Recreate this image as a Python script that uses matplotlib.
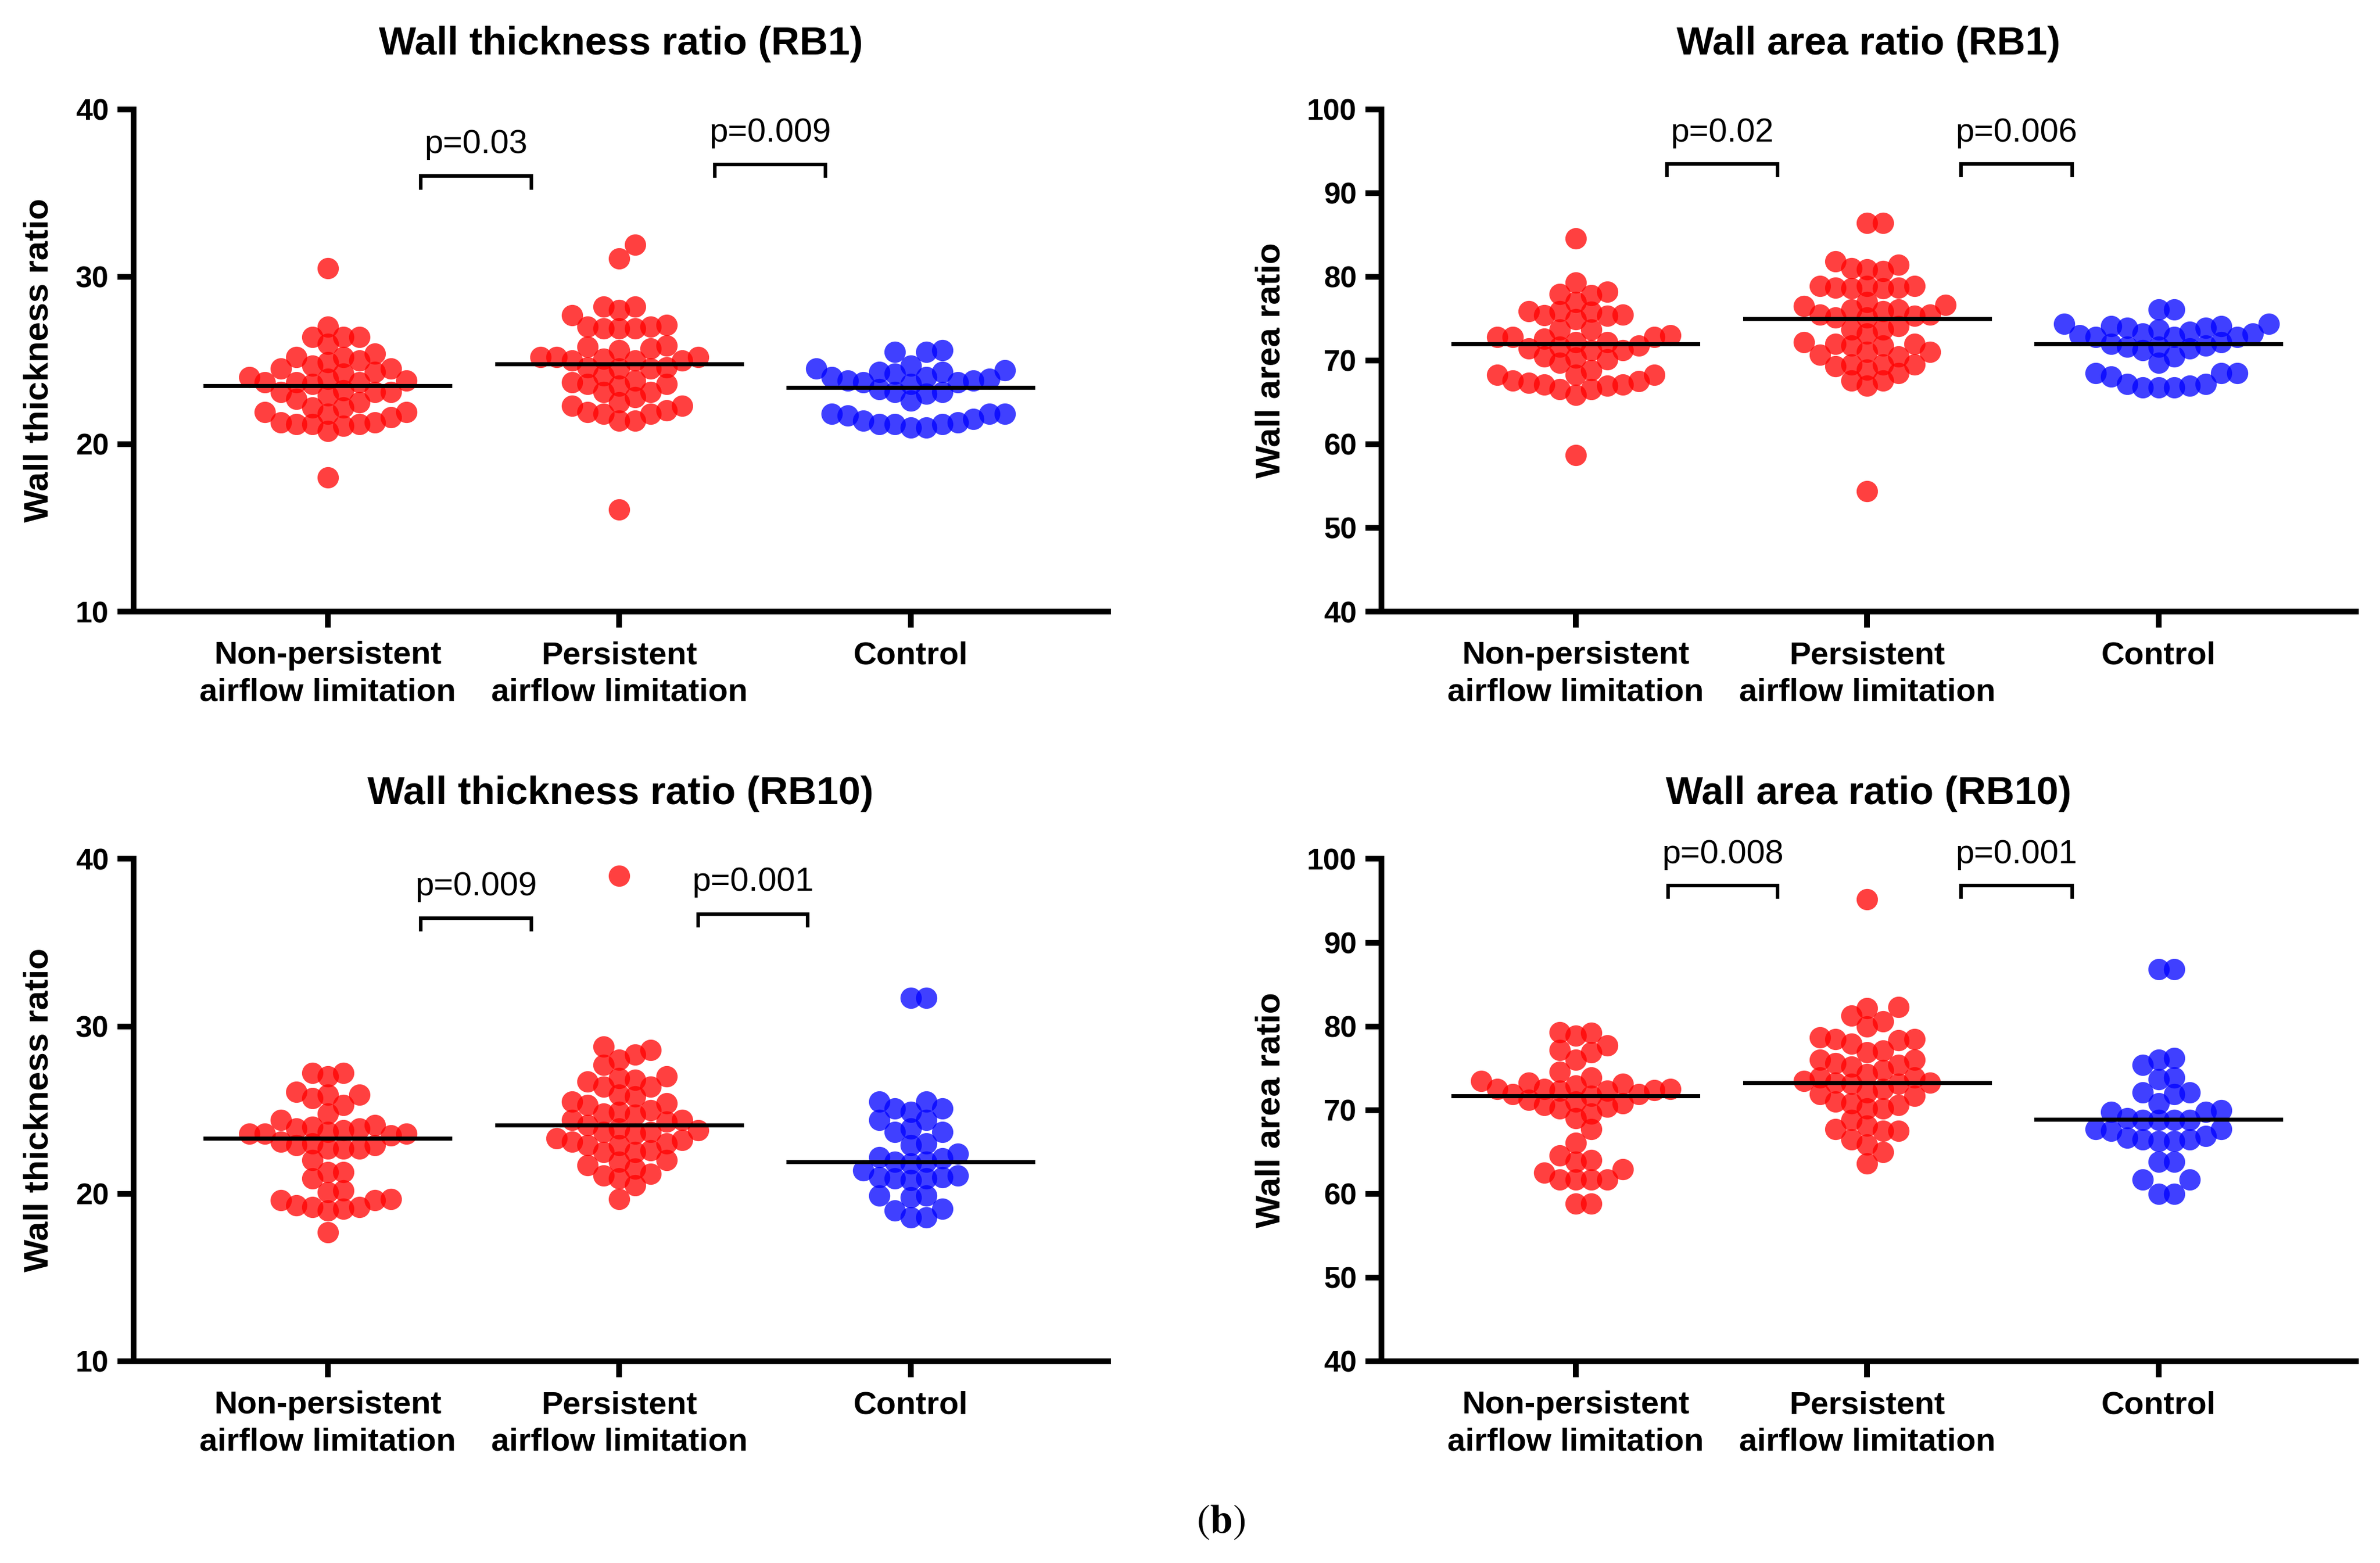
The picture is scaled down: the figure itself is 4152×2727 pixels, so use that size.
import numpy as np
import matplotlib
matplotlib.use('Agg')
import matplotlib.pyplot as plt

plt.rcParams['font.family'] = ['Liberation Sans', 'DejaVu Sans']
plt.rcParams['mathtext.fontset'] = 'stix'

# group names on the x axis
groups = ['Non-persistent\nairflow limitation', 'Persistent\nairflow limitation', 'Control']

# ---- wall thickness ratio, RB1 ----
nonpers_wtr_rb1 = [30.5, 27.0, 26.4, 26.4, 26.4, 26.0, 25.4, 25.2, 25.2, 25.0, 24.9, 24.7, 24.5, 24.5,
                   24.3, 24.2, 24.0, 23.9, 23.8, 23.7, 23.7, 23.7, 23.6, 23.2, 23.1, 23.1, 23.1, 22.9,
                   22.7, 22.5, 22.2, 22.2, 21.9, 21.9, 21.8, 21.6, 21.3, 21.3, 21.2, 21.2, 21.1, 21.2,
                   20.8, 18.0]
pers_wtr_rb1 = [31.9, 31.1, 28.2, 28.2, 28.0, 27.7, 26.9, 26.9, 27.0, 27.0, 27.1, 26.9, 25.9, 25.8,
                25.7, 25.6, 25.0, 25.2, 25.0, 25.0, 25.2, 25.2, 25.1, 24.6, 24.6, 24.5, 24.5, 24.1,
                23.8, 23.7, 23.6, 23.5, 23.6, 23.1, 23.1, 22.5, 22.8, 22.3, 22.3, 22.0, 21.8, 21.8,
                21.9, 21.4, 21.4, 16.1]
ctrl_wtr_rb1 = [25.6, 25.5, 25.5, 24.7, 24.5, 24.4, 24.2, 24.3, 24.3, 24.0, 23.7, 23.9, 23.6, 23.7,
                23.8, 24.0, 23.8, 23.3, 23.0, 23.1, 22.6, 23.1, 21.5, 21.8, 21.7, 21.8, 21.8, 21.0,
                21.2, 21.0, 21.4, 21.2, 21.2, 21.3]
median_wtr_rb1 = [23.5, 24.8, 23.4]

# ---- wall area ratio, RB1 ----
nonpers_war_rb1 = [84.6, 79.3, 77.8, 78.2, 77.9, 77.0, 75.5, 75.3, 75.4, 75.8, 74.9, 75.9, 75.9, 73.7,
                   73.7, 73.0, 72.8, 72.2, 72.8, 72.8, 72.6, 72.2, 71.6, 71.2, 71.4, 71.2, 71.8, 70.5,
                   70.3, 69.7, 70.1, 68.8, 68.3, 68.3, 68.3, 67.3, 67.5, 67.6, 67.1, 67.0, 67.1, 66.6,
                   66.6, 65.9, 58.7]
pers_war_rb1 = [86.4, 86.4, 81.8, 81.4, 81.0, 80.7, 80.9, 78.9, 78.6, 78.7, 78.7, 78.9, 78.9, 78.6,
                76.5, 77.0, 76.1, 76.6, 76.1, 75.1, 75.1, 75.9, 75.5, 75.5, 75.3, 73.7, 73.2, 74.1,
                73.7, 72.0, 72.0, 71.8, 72.2, 71.0, 71.0, 71.8, 70.7, 69.5, 69.5, 69.3, 69.5, 70.5,
                68.5, 68.9, 67.6, 67.0, 67.6, 54.4]
ctrl_war_rb1 = [76.1, 76.1, 73.9, 74.1, 74.4, 74.4, 74.1, 73.9, 72.8, 72.8, 73.4, 72.8, 73.7, 73.0,
                73.2, 72.0, 71.8, 71.2, 71.6, 71.4, 72.2, 71.6, 69.7, 70.5, 68.5, 68.5, 68.5, 68.1,
                66.8, 67.0, 66.8, 67.2, 66.8, 67.2, 73.2]
median_war_rb1 = [72.0, 75.0, 72.0]

# ---- wall thickness ratio, RB10 ----
nonpers_wtr_rb10 = [27.0, 27.2, 27.2, 26.1, 25.7, 25.9, 25.9, 25.3, 24.8, 24.4, 23.9, 24.1, 23.6, 23.5,
                    24.0, 23.9, 23.6, 23.8, 23.6, 23.7, 23.1, 22.7, 22.9, 22.7, 23.0, 22.9, 22.7, 22.0,
                    21.3, 21.3, 20.9, 20.2, 20.1, 19.6, 19.7, 19.0, 19.1, 19.3, 19.2, 19.2, 19.6, 17.7]
pers_wtr_rb10 = [39.0, 28.6, 28.8, 28.0, 28.3, 27.7, 26.4, 26.8, 26.4, 26.7, 27.0, 26.9, 25.9, 25.8,
                 25.3, 25.5, 25.4, 24.8, 25.0, 24.9, 24.7, 24.3, 24.4, 24.4, 23.7, 23.9, 24.1, 23.8,
                 23.7, 23.6, 22.9, 23.2, 23.0, 23.3, 22.9, 23.1, 22.5, 22.6, 22.5, 21.9, 22.0, 21.7,
                 21.5, 21.1, 20.9, 21.2, 20.5, 19.7]
ctrl_wtr_rb10 = [31.7, 31.7, 25.1, 25.5, 25.5, 25.1, 24.9, 24.4, 24.4, 23.7, 23.7, 23.9, 22.9, 23.0,
                 22.1, 21.9, 22.2, 22.4, 21.9, 21.8, 21.1, 21.4, 20.9, 21.0, 21.0, 20.8, 20.9, 19.9,
                 19.8, 19.9, 19.1, 19.0, 18.6, 18.6]
median_wtr_rb10 = [23.3, 24.1, 21.9]

# ---- wall area ratio, RB10 ----
nonpers_war_rb10 = [79.2, 78.9, 79.3, 77.7, 76.9, 77.2, 76.0, 73.1, 73.9, 73.3, 73.5, 74.6, 72.5, 72.3,
                    71.7, 72.3, 72.5, 72.9, 71.9, 72.5, 72.4, 71.9, 70.4, 70.8, 70.6, 71.0, 71.2, 70.2,
                    69.0, 69.6, 67.7, 66.1, 64.6, 64.0, 63.8, 62.5, 62.9, 61.7, 61.7, 61.7, 61.7, 58.8,
                    58.8]
pers_war_rb10 = [95.2, 82.2, 82.3, 81.3, 80.6, 80.0, 78.7, 77.9, 78.5, 78.5, 78.3, 77.1, 76.9, 75.6,
                 76.0, 75.4, 76.0, 75.2, 74.8, 73.9, 73.9, 74.3, 73.3, 73.3, 73.5, 73.1, 73.1, 72.1,
                 72.5, 71.9, 71.7, 70.8, 71.0, 70.2, 70.6, 70.2, 68.1, 68.8, 67.5, 67.5, 67.7, 66.5,
                 65.9, 65.0, 63.6]
ctrl_war_rb10 = [86.8, 86.8, 76.0, 75.4, 76.2, 73.9, 73.7, 72.1, 72.1, 71.9, 70.8, 69.8, 70.0, 69.8,
                 68.8, 68.8, 68.8, 69.0, 68.8, 67.5, 67.7, 67.7, 66.5, 66.5, 66.9, 66.3, 66.3, 66.7,
                 63.8, 63.8, 61.7, 61.7, 60.0, 60.0]
median_war_rb10 = [71.7, 73.3, 68.9]

# p-values: (label, x_left, x_right, bracket y, text y)
p_wtr_rb1 = [('p=0.03', 1.318, 1.698, 36.0, 37.9), ('p=0.009', 2.328, 2.708, 36.7, 38.6)]
p_war_rb1 = [('p=0.02', 1.313, 1.693, 93.5, 97.2), ('p=0.006', 2.323, 2.703, 93.5, 97.2)]
p_wtr_rb10 = [('p=0.009', 1.318, 1.698, 36.45, 38.35), ('p=0.001', 2.270, 2.646, 36.7, 38.6)]
p_war_rb10 = [('p=0.008', 1.316, 1.693, 96.8, 100.5), ('p=0.001', 2.322, 2.703, 96.8, 100.5)]

colors = ['#ff0000', '#ff0000', '#0000ff']


def swarm(ax, xc, vals, step=0.054):
    # simple beeswarm: put each point in the nearest free column
    vals = np.asarray(vals, dtype=float)
    xs = np.full(len(vals), float(xc))
    p0 = ax.transData.transform((xc, 0))
    p1 = ax.transData.transform((xc + step, 0))
    dmin = abs(p1[0] - p0[0]) * 0.98
    placed = []
    for i in np.argsort(vals):
        for k in range(0, 40):
            found = False
            for sgn in ([1] if k == 0 else [1, -1]):
                x = xc + sgn * k * step
                p = ax.transData.transform((x, vals[i]))
                if all(np.hypot(p[0] - q[0], p[1] - q[1]) >= dmin for q in placed):
                    xs[i] = x
                    placed.append(p)
                    found = True
                    break
            if found:
                break
    return xs


def panel(ax, data, medians, pvals, title, ylabel, ylim, yticks):
    ax.set_xlim(0.333, 3.677)
    ax.set_ylim(*ylim)
    ax.set_yticks(yticks)
    ax.set_xticks([1, 2, 3])
    ax.set_xticklabels(groups, fontsize=13.5, fontweight='bold', linespacing=1.3)
    for lab in ax.get_yticklabels():
        lab.set_fontsize(12.5)
        lab.set_fontweight('bold')
    for s in ['top', 'right']:
        ax.spines[s].set_visible(False)
    for s in ['left', 'bottom']:
        ax.spines[s].set_linewidth(2.4)
    ax.tick_params(axis='both', length=6.8, width=2.4, pad=3.5)
    ax.tick_params(axis='x', pad=5.5)

    for i, vals in enumerate(data):
        xs = swarm(ax, i + 1, vals)
        ax.scatter(xs, vals, s=80, color=colors[i], alpha=0.75, linewidths=0, zorder=2, clip_on=False)
        ax.plot([i + 1 - 0.42, i + 1 + 0.42], [medians[i], medians[i]], color='black', lw=1.7, zorder=3)

    rng = ylim[1] - ylim[0]
    leg = rng * 0.023
    for lab, x0, x1, yb, yt in pvals:
        ax.plot([x0, x0, x1, x1], [yb - leg, yb, yb, yb - leg], color='black', lw=1.5,
                clip_on=False, solid_joinstyle='miter')
        ax.text((x0 + x1) / 2, yt, lab, ha='center', va='center', fontsize=14, clip_on=False)

    ax.text(0.5, 1.13, title, transform=ax.transAxes, ha='center', va='center',
            fontsize=16.5, fontweight='bold')
    ax.set_ylabel(ylabel, fontsize=14.5, fontweight='bold')


fig = plt.figure(figsize=(4152 / 300, 2727 / 300), dpi=300)

ax1 = fig.add_axes([0.0561, 0.6087, 0.4094, 0.3214])
ax2 = fig.add_axes([0.5804, 0.6087, 0.4094, 0.3214])
ax3 = fig.add_axes([0.0561, 0.1291, 0.4094, 0.3214])
ax4 = fig.add_axes([0.5804, 0.1291, 0.4094, 0.3214])

panel(ax1, [nonpers_wtr_rb1, pers_wtr_rb1, ctrl_wtr_rb1], median_wtr_rb1, p_wtr_rb1,
      'Wall thickness ratio (RB1)', 'Wall thickness ratio', (10, 40), [10, 20, 30, 40])
panel(ax2, [nonpers_war_rb1, pers_war_rb1, ctrl_war_rb1], median_war_rb1, p_war_rb1,
      'Wall area ratio (RB1)', 'Wall area ratio', (40, 100), list(range(40, 101, 10)))
panel(ax3, [nonpers_wtr_rb10, pers_wtr_rb10, ctrl_wtr_rb10], median_wtr_rb10, p_wtr_rb10,
      'Wall thickness ratio (RB10)', 'Wall thickness ratio', (10, 40), [10, 20, 30, 40])
panel(ax4, [nonpers_war_rb10, pers_war_rb10, ctrl_war_rb10], median_war_rb10, p_war_rb10,
      'Wall area ratio (RB10)', 'Wall area ratio', (40, 100), list(range(40, 101, 10)))

for ax in [ax1, ax3]:
    ax.yaxis.set_label_coords(-0.081, 0.5)
for ax in [ax2, ax4]:
    ax.yaxis.set_label_coords(-0.097, 0.5)

fig.text(0.513, 0.026, r'$(\mathbf{b})$', ha='center', va='center', fontsize=17)

fig.savefig('out.png', dpi=300)
